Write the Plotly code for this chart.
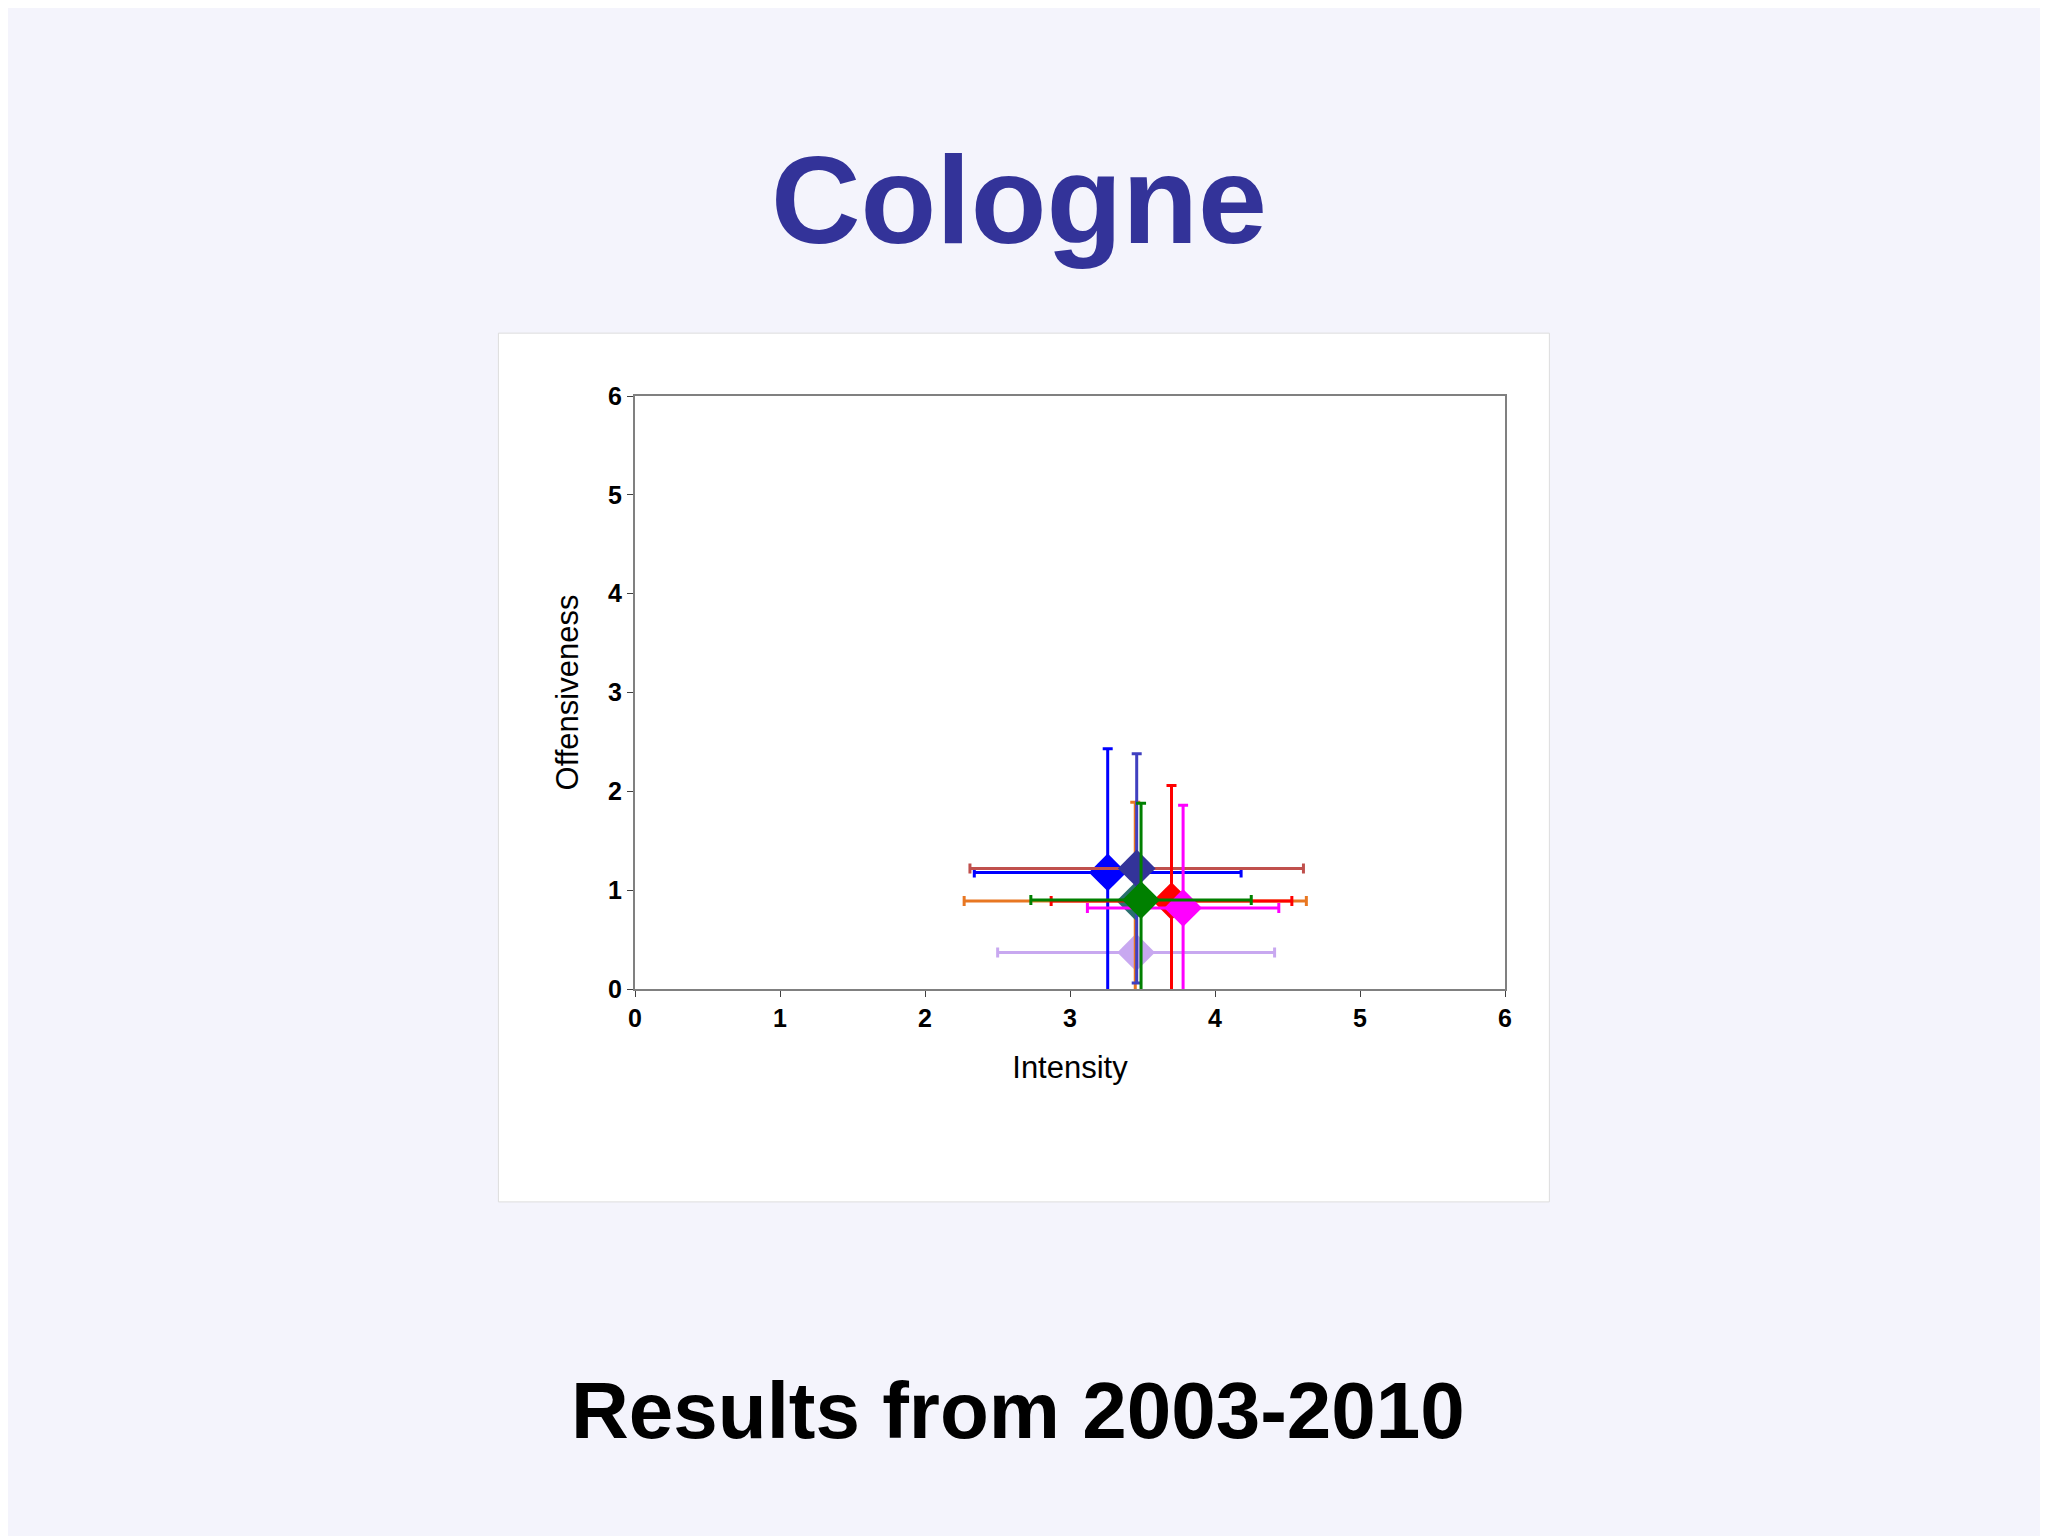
import plotly.graph_objects as go

names = ["S1", "S2", "S3", "S4", "S5", "S6", "S7"]
xs = [3.456, 3.45, 3.26, 3.46, 3.70, 3.78, 3.49]
ys = [0.37, 0.89, 1.18, 1.22, 0.89, 0.82, 0.90]
ex = [0.955, 1.18, 0.92, 1.15, 0.83, 0.66, 0.76]
ey = [0.0, 1.0, 1.25, 1.16, 1.17, 1.04, 0.98]
mcol = ["#c8a8f0", "#2a6f6f", "#0000ff", "#333399", "#ff0000", "#ff00ff", "#008000"]
excol = ["#c8a8f0", "#e87722", "#0000ff", "#c0504d", "#ff0000", "#ff00ff", "#008000"]
eycol = ["#c8a8f0", "#e87722", "#0000ff", "#4040c0", "#ff0000", "#ff00ff", "#008000"]

fig = go.Figure()
for i in range(len(names)):
    fig.add_trace(go.Scatter(
        x=[xs[i]], y=[ys[i]], mode="markers", name=names[i],
        marker=dict(symbol="diamond", size=29, color=mcol[i]),
        error_x=dict(type="data", array=[ex[i]], color=excol[i], thickness=3, width=5),
        error_y=dict(type="data", array=[ey[i]], color=eycol[i], thickness=3, width=5,
                     visible=ey[i] > 0),
        cliponaxis=False))

fig.add_shape(type="rect", xref="paper", yref="paper", x0=-0.157, x1=1.051, y0=-0.359, y1=1.106,
              fillcolor="white", line=dict(color="#dddddd", width=1), layer="below")

ax = dict(range=[0, 6], dtick=1, showgrid=False, zeroline=False, showline=True, mirror=True,
          linecolor="#808080", linewidth=2, ticks="outside", ticklen=6, tickcolor="#404040",
          tickfont=dict(family="Liberation Sans", size=25, color="black", weight="bold"))
fig.update_xaxes(**ax, title=dict(text="Intensity", font=dict(family="Liberation Sans", size=31, color="black"), standoff=25))
fig.update_yaxes(**ax, title=dict(text="Offensiveness", font=dict(family="Liberation Sans", size=31, color="black"), standoff=20))

fig.add_annotation(text="<b>Cologne</b>", xref="paper", yref="paper", x=0.441, y=1.33,
                   yanchor="middle", showarrow=False,
                   font=dict(family="Liberation Sans", size=124, color="#333399"))
fig.add_annotation(text="<b>Results from 2003-2010</b>", xref="paper", yref="paper", x=0.44, y=-0.71,
                   yanchor="middle", showarrow=False,
                   font=dict(family="Liberation Sans", size=80, color="black"))

fig.update_layout(width=2048, height=1536, showlegend=False,
                  margin=dict(l=627, r=551, t=388, b=555),
                  paper_bgcolor="#f4f4fc", plot_bgcolor="white")
fig.write_html("out.html")
